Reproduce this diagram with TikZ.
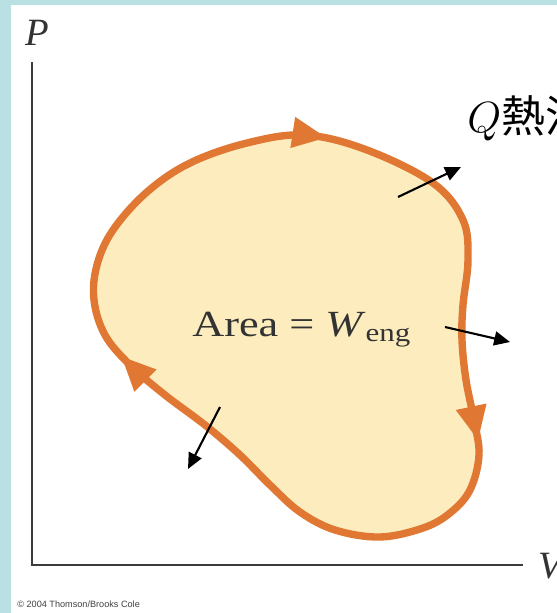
\documentclass[tikz,border=0pt]{standalone}
\usepackage{fontspec}
\setmainfont{Liberation Serif}
\newfontfamily\areafont{Liberation Serif}[FakeStretch=1.2]
\newfontfamily\cjkfont{Noto Sans CJK TC}
\newfontfamily\creditfont{Liberation Sans}
\usetikzlibrary{arrows.meta, decorations.markings}
\definecolor{panelblue}{RGB}{185,224,227}
\definecolor{loopfill}{RGB}{253,237,190}
\definecolor{loopline}{RGB}{224,120,52}
\definecolor{axisgray}{RGB}{60,60,60}

\begin{document}
\begin{tikzpicture}[
x=0.02cm, y=-0.02cm,
axis/.style={draw=axisgray, line width=1.1pt},
axislabel/.style={font=\fontsize{22}{24}\selectfont\itshape, text=black!80, inner sep=0pt},
pvloop/.style={draw=loopline, fill=loopfill, line width=4.2pt, line join=round},
flowtip/.style={postaction={decorate, color=loopline, line width=0.5pt, decoration={markings,
  mark=at position 0.058 with {\arrow{Triangle[length=13pt,width=12pt]}},
  mark=at position 0.368 with {\arrow{Triangle[length=13pt,width=12pt]}},
  mark=at position 0.752 with {\arrow{Triangle[length=13pt,width=12pt]}}}}},
heat/.style={-{Triangle[length=9pt,width=8pt]}, line width=1.2pt, black}
]

\useasboundingbox (0,0) rectangle (557,613);
\clip (0,0) rectangle (557,613);
\fill[panelblue] (0,0) rectangle (557,613);
\fill[white] (11,5) rectangle (557,613);

\coordinate (ptop) at (32,62);
\coordinate (origin) at (32,565);
\coordinate (vend) at (523,565);
\draw[axis] (ptop) -- (origin) -- (vend);

\path[pvloop, flowtip] plot[smooth cycle, tension=0.6] coordinates {(190,163) (247,143) (305,135) (367,150) (433,183) (463,220) (468,260) (463,305) (462,340) (466,380) (474,420) (479,455) (470,490) (450,513) (423,528) (380,537) (335,530) (300,512) (270,485) (240,455) (205,425) (165,395) (130,365) (105,335) (94,300) (97,265) (113,230) (147,192)};

\node[axislabel] (plabel) at (37,33) {P};
\node[axislabel, anchor=west] (vlabel) at (538,566) {V};
\node[font=\areafont\fontsize{21}{24}\selectfont, text=black!80, anchor=base west, inner sep=0pt] (area) at (192,336) {Area = \textit{W}\textsubscript{eng}};
\node[anchor=base west, inner sep=0pt] (qlabel) at (467,132) {{\fontsize{24}{26}\selectfont$Q$}{\cjkfont\fontsize{25}{28}\selectfont 熱流}};
\node[font=\creditfont\fontsize{5.2}{6}\selectfont, text=black!75, anchor=base west, inner sep=0pt] (credit) at (17,607) {© 2004 Thomson/Brooks Cole};

\coordinate (in1) at (398,197);
\coordinate (out1) at (461,167);
\coordinate (in2) at (445,327);
\coordinate (out2) at (510,342);
\coordinate (in3) at (220,407);
\coordinate (out3) at (188,469);
\draw[heat] (in1) -- (out1);
\draw[heat] (in2) -- (out2);
\draw[heat] (in3) -- (out3);

\end{tikzpicture}
\end{document}
